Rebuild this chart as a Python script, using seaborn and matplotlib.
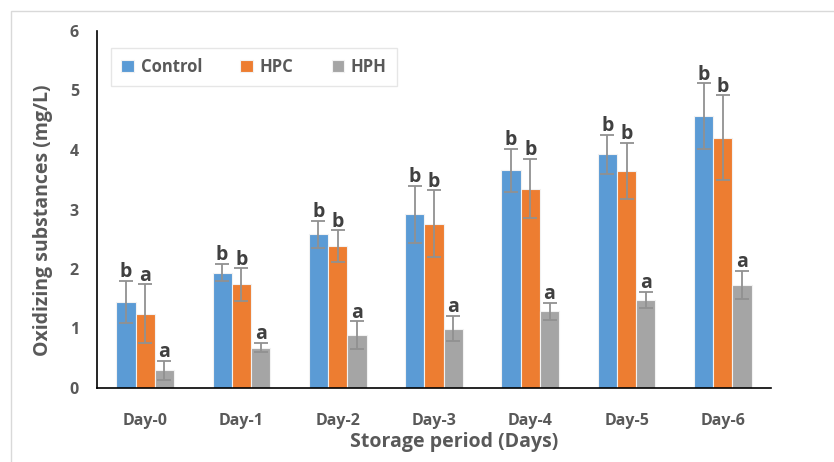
import matplotlib
matplotlib.use("Agg")
import matplotlib.pyplot as plt
import seaborn as sns
import pandas as pd
import numpy as np
from matplotlib.patches import Rectangle

days = ["Day-0", "Day-1", "Day-2", "Day-3", "Day-4", "Day-5", "Day-6"]
series = ["Control", "HPC", "HPH"]
control = [1.45, 1.94, 2.58, 2.92, 3.66, 3.93, 4.57]
hpc = [1.25, 1.74, 2.38, 2.76, 3.35, 3.65, 4.21]
hph = [0.30, 0.68, 0.89, 1.00, 1.29, 1.48, 1.73]
control_err = [0.35, 0.15, 0.23, 0.48, 0.36, 0.33, 0.55]
hpc_err = [0.49, 0.27, 0.27, 0.56, 0.50, 0.47, 0.71]
hph_err = [0.16, 0.08, 0.23, 0.21, 0.14, 0.14, 0.24]
control_letters = ["b", "b", "b", "b", "b", "b", "b"]
hpc_letters = ["a", "b", "b", "b", "b", "b", "b"]
hph_letters = ["a", "a", "a", "a", "a", "a", "a"]
colors = ["#5B9BD5", "#ED7D31", "#A5A5A5"]

sns.set_style("white")
plt.rcParams["font.family"] = ["Open Sans", "DejaVu Sans"]

rows = []
for vals, errs, lets, s in [(control, control_err, control_letters, "Control"),
                            (hpc, hpc_err, hpc_letters, "HPC"),
                            (hph, hph_err, hph_letters, "HPH")]:
    for d, v, e, l in zip(days, vals, errs, lets):
        rows.append({"Day": d, "Series": s, "Value": v, "Err": e, "Letter": l})
df = pd.DataFrame(rows)

fig = plt.figure(figsize=(8.34, 4.62), dpi=100)
ax = fig.add_axes([97/834, 74/462, 674/834, 357/462])

sns.barplot(data=df, x="Day", y="Value", hue="Series", order=days, hue_order=series,
            palette=colors, width=0.6, errorbar=None, ax=ax,
            edgecolor="#f2f2f2", linewidth=0.8, saturation=1)

txtc = "#595959"
for cont, s in zip(ax.containers, series):
    sub = df[df["Series"] == s].set_index("Day").loc[days]
    xs = [p.get_x() + p.get_width()/2 for p in cont.patches]
    ys = sub["Value"].values
    es = sub["Err"].values
    ax.errorbar(xs, ys, yerr=es, fmt="none", ecolor="#919191", elinewidth=1.3,
                capsize=5, capthick=1.3, zorder=5)
    for x, y, e, l in zip(xs, ys, es, sub["Letter"].values):
        ax.annotate(l, (x, y + e), xytext=(0, -1), textcoords="offset points",
                    ha="center", va="bottom", fontsize=14, fontweight="bold",
                    color="#404040", zorder=6)

ax.set_xlim(-0.5, 6.5)
ax.set_ylim(0, 6)
ax.set_yticks([0, 1, 2, 3, 4, 5, 6])
for sp in ["top", "right"]:
    ax.spines[sp].set_visible(False)
for sp in ["left", "bottom"]:
    ax.spines[sp].set_visible(True)
    ax.spines[sp].set_color("black")
    ax.spines[sp].set_linewidth(1.2)
ax.tick_params(axis="both", length=0, labelsize=11.5, labelcolor=txtc)
ax.tick_params(axis="y", pad=13)
ax.tick_params(axis="x", pad=18)
for t in ax.get_xticklabels() + ax.get_yticklabels():
    t.set_fontweight("bold")
ax.set_xlabel("Storage period (Days)", fontsize=14, fontweight="bold", color=txtc)
ax.set_ylabel("Oxidizing substances (mg/L)", fontsize=14, fontweight="bold", color=txtc)
ax.xaxis.set_label_coords((454-97)/674, (388-442)/357)
ax.xaxis.label.set_va("center")
ax.yaxis.set_label_coords((43-97)/674, (388-220)/357)
ax.yaxis.label.set_va("center")

leg = ax.legend(loc="center", bbox_to_anchor=((254-97)/674, (388-67)/357), ncol=3,
                frameon=True, fancybox=False, edgecolor="#e0e0e0", handlelength=0.75,
                handleheight=0.75, columnspacing=2.3, handletextpad=0.4,
                prop={"weight": "bold", "size": 12}, borderpad=0.6)
for t in leg.get_texts():
    t.set_color(txtc)
leg.get_frame().set_linewidth(1.0)

fig.patches.append(Rectangle((11/834, -0.1), 1.1, (462-11)/462 + 0.1, transform=fig.transFigure,
                             fill=False, edgecolor="#d9d9d9", linewidth=1.0, zorder=0))

fig.savefig("out.png", dpi=100)
